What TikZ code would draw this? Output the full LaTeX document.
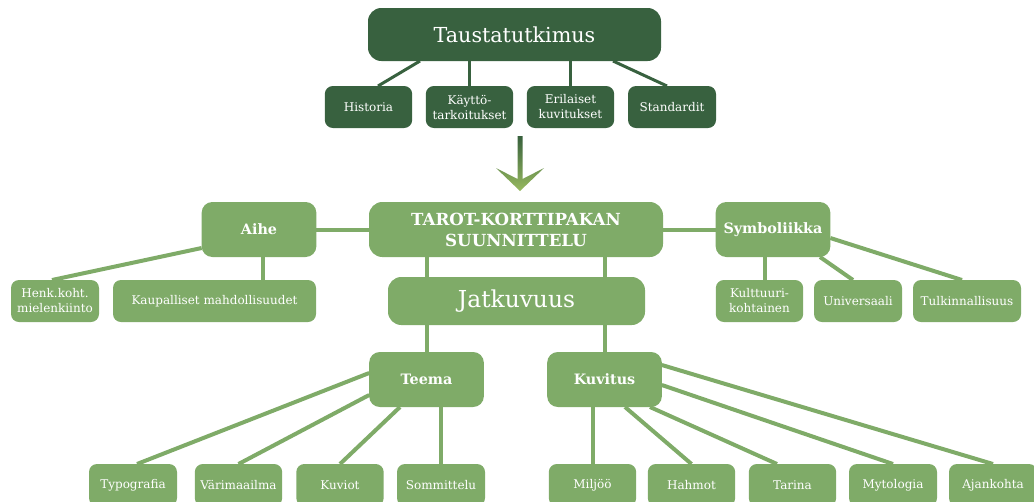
\documentclass[tikz,border=0pt]{standalone}
\usepackage{fontspec}
\setmainfont{DejaVu Serif}
\usetikzlibrary{calc,backgrounds}

\definecolor{darkgreen}{RGB}{56,97,63}
\definecolor{lightgreen}{RGB}{127,171,104}
\definecolor{arrowtop}{RGB}{55,96,60}
\definecolor{arrowbot}{RGB}{152,186,96}

\tikzset{
  box/.style={rounded corners=6pt, inner sep=0pt, outer sep=0pt, text=white, align=center},
  darkbox/.style={box, fill=darkgreen, minimum width=65.5pt, minimum height=31.5pt,
    font=\fontsize{9}{11.25}\selectfont},
  leafbox/.style={box, fill=lightgreen, minimum width=65.5pt, minimum height=31.5pt,
    font=\fontsize{9}{11.25}\selectfont},
  topicbox/.style={box, fill=lightgreen, rounded corners=8pt, minimum width=86pt,
    minimum height=41.25pt, font=\fontsize{10.75}{13}\selectfont\bfseries},
  bigbox/.style={box, rounded corners=10pt},
  darkline/.style={draw=darkgreen, line width=2.25pt},
  lightline/.style={draw=lightgreen, line width=3pt}
}

\begin{document}
\begin{tikzpicture}[x=0.75pt, y=-0.75pt]
    \useasboundingbox (0,0) rectangle (1034,501);
    \clip (0,0) rectangle (1034,501);

    %Background research
    \node[bigbox, fill=darkgreen, minimum width=219.75pt, minimum height=39.75pt,
        font=\fontsize{15.5}{18}\selectfont] (taus) at (514.5,34.5) {Taustatutkimus};
    \node[darkbox] (hist) at (368.5,107) {Historia};
    \node[darkbox] (kayt) at (469.5,107) {Käyttö-\\tarkoitukset};
    \node[darkbox] (eril) at (570.5,107) {Erilaiset\\kuvitukset};
    \node[darkbox, minimum width=66pt] (stand) at (672,107) {Standardit};

    %Arrow
    \shade[top color=arrowtop, bottom color=arrowbot]
        (517.5,136) -- (517.5,179) -- (496,168) -- (520,191) -- (544,168)
        -- (522.5,179) -- (522.5,136) -- cycle;

    %Main nodes
    \node[bigbox, fill=lightgreen, minimum width=220.5pt, minimum height=41.25pt,
        font=\fontsize{12.5}{15.75}\selectfont\bfseries] (tarot) at (516,229.5) {TAROT-KORTTIPAKAN\\SUUNNITTELU};
    \node[bigbox, fill=lightgreen, minimum width=192.75pt, minimum height=36pt,
        font=\fontsize{17.5}{20}\selectfont] (jatk) at (516.5,301) {Jatkuvuus};
    \node[topicbox] (aihe) at (259,229.5) {Aihe};
    \node[topicbox] (symb) at (773,229.5) {Symboliikka};
    \node[topicbox] (teema) at (426.5,379.5) {Teema};
    \node[topicbox] (kuv) at (604.5,379.5) {Kuvitus};

    %Leaves
    \node[leafbox, minimum width=66pt] (henk) at (55,301) {Henk.koht.\\mielenkiinto};
    \node[leafbox, minimum width=152.25pt] (kaup) at (214.5,301) {Kaupalliset mahdollisuudet};
    \node[leafbox] (kult) at (759.5,301) {Kulttuuri-\\kohtainen};
    \node[leafbox, minimum width=66pt] (univ) at (858,301) {Universaali};
    \node[leafbox, minimum width=81pt] (tulk) at (967,301) {Tulkinnallisuus};
    \node[leafbox, minimum width=66pt] (typo) at (133,485) {Typografia};
    \node[leafbox] (vari) at (238.5,485) {Värimaailma};
    \node[leafbox] (kuvi) at (340,485) {Kuviot};
    \node[leafbox, minimum width=66pt] (somm) at (441,485) {Sommittelu};
    \node[leafbox] (milj) at (592.5,485) {Miljöö};
    \node[leafbox] (hahm) at (691.5,485) {Hahmot};
    \node[leafbox] (tari) at (792.5,485) {Tarina};
    \node[leafbox, minimum width=66pt] (myto) at (893,485) {Mytologia};
    \node[leafbox, minimum width=66pt] (ajan) at (993,485) {Ajankohta};

    %Lines
    \coordinate (aiheFoot) at ($(aihe.south)+(4,0)$);
    \coordinate (kultHead) at ($(kult.north)+(5,0)$);
    \begin{scope}[on background layer]
        \draw[darkline] ($(taus.south)+(-94.5,0)$) -- ($(hist.north)+(9.5,0)$);
        \draw[darkline] (kayt.north) -- (kayt.north |- taus.south);
        \draw[darkline] (eril.north) -- (eril.north |- taus.south);
        \draw[darkline] ($(taus.south)+(98.5,0)$) -- ($(stand.north)+(-5,0)$);

        \draw[lightline] (aihe.east) -- (tarot.west);
        \draw[lightline] (tarot.east) -- (symb.west);
        \draw[lightline] (teema.north |- tarot.south) -- (teema.north |- jatk.north);
        \draw[lightline] (kuv.north |- tarot.south) -- (kuv.north |- jatk.north);
        \draw[lightline] (teema.north) -- (teema.north |- jatk.south);
        \draw[lightline] (kuv.north) -- (kuv.north |- jatk.south);

        \draw[lightline] ($(aihe.west)+(0,18.5)$) -- ($(henk.north)+(-3,0)$);
        \draw[lightline] (aiheFoot) -- (aiheFoot |- kaup.north);
        \draw[lightline] (kultHead) -- (kultHead |- symb.south);
        \draw[lightline] ($(symb.south)+(47,0)$) -- ($(univ.north)+(-5,0)$);
        \draw[lightline] ($(symb.east)+(0,8.5)$) -- ($(tulk.north)+(-5,0)$);

        \draw[lightline] ($(teema.west)+(0,-6.5)$) -- ($(typo.north)+(4,0)$);
        \draw[lightline] ($(teema.west)+(0,15.5)$) -- (vari.north);
        \draw[lightline] ($(teema.south)+(-26.5,0)$) -- (kuvi.north);
        \draw[lightline] (somm.north) -- (somm.north |- teema.south);

        \draw[lightline] (milj.north) -- (milj.north |- kuv.south);
        \draw[lightline] ($(kuv.south)+(20.5,0)$) -- (hahm.north);
        \draw[lightline] ($(kuv.south)+(45.5,0)$) -- ($(tari.north)+(-15.5,0)$);
        \draw[lightline] ($(kuv.east)+(0,5.5)$) -- (myto.north);
        \draw[lightline] ($(kuv.east)+(0,-14.5)$) -- (ajan.north);
    \end{scope}
\end{tikzpicture}
\end{document}
